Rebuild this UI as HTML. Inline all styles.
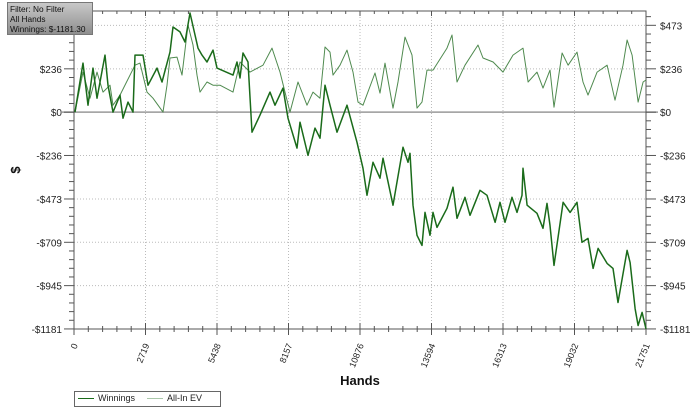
<!DOCTYPE html>
<html><head><meta charset="utf-8"><style>
html,body{margin:0;padding:0;background:#fff;width:700px;height:416px;overflow:hidden;font-family:"Liberation Sans",sans-serif}
</style></head><body>
<svg id="c" width="700" height="416" xmlns="http://www.w3.org/2000/svg"></svg>
<script>
const yTicks=[-1181,-945,-709,-473,-236,0,236,473];
const yTickLabels=["-$1181","-$945","-$709","-$473","-$236","$0","$236","$473"];
const xTicks=[0,2719,5438,8157,10876,13594,16313,19032,21751];
const winHands=[38,342,532,723,875,1179,1293,1483,1749,1863,2054,2244,2320,2624,2814,3156,3347,3651,3765,4031,4221,4411,4716,4868,5058,5286,5438,6047,6199,6313,6427,6617,6769,7074,7454,7644,7948,8138,8481,8595,8899,9165,9355,9546,9736,10002,10382,10762,10991,11143,11371,11637,11751,12132,12512,12702,12778,12892,13044,13234,13349,13539,13653,13805,14185,14413,14565,14870,15060,15440,15706,16011,16201,16391,16657,16847,17037,17075,17228,17608,17836,17988,18102,18254,18597,18863,19129,19319,19547,19738,19928,20270,20498,20688,21031,21145,21335,21449,21601,21751];
const winVals=[0,267,38,240,76,311,147,0,93,-33,55,0,311,311,147,240,164,327,464,437,382,540,349,311,273,338,240,202,273,186,322,273,-109,-16,109,38,131,-33,-196,-55,-235,-87,-142,147,38,-109,38,-164,-306,-453,-273,-360,-251,-507,-191,-273,-224,-507,-671,-726,-546,-671,-546,-628,-524,-409,-578,-464,-562,-426,-453,-600,-491,-600,-464,-546,-453,-306,-507,-551,-633,-497,-617,-835,-491,-546,-491,-709,-688,-851,-742,-824,-851,-1037,-753,-819,-1070,-1162,-1091,-1181];
const evHands=[38,342,608,875,1103,1369,1483,1749,2320,2510,2776,3004,3385,3537,3651,3917,4107,4335,4526,4678,4792,5058,5286,5552,6047,6313,6693,7188,7530,7834,8214,8519,8861,9089,9355,9546,9736,9850,10116,10382,10610,10801,10991,11447,11637,11827,12132,12322,12588,12854,13044,13234,13425,13653,14185,14375,14565,14870,15364,15554,15935,16315,16695,17075,17266,17608,17836,18102,18254,18559,18787,19129,19357,19547,19890,20270,20574,20878,21031,21221,21449,21639,21751];
const evVals=[0,218,76,218,109,147,38,93,256,267,109,76,0,147,295,300,202,475,366,202,109,164,147,147,109,273,218,256,349,218,0,164,38,109,76,355,327,202,256,338,218,55,38,213,104,267,22,164,409,311,22,55,229,229,349,420,164,256,366,295,273,218,311,349,164,218,131,229,27,322,256,327,164,93,218,256,65,256,393,311,55,164,175];

const X0=74,X1=646,Y0=11,Y1=329,XMAX=21751,YMIN=-1181.3,YMAX=551;
const sx=v=>X0+(v/XMAX)*(X1-X0);
const sy=v=>Y1-(v-YMIN)/(YMAX-YMIN)*(Y1-Y0);
const svg=document.getElementById('c');
const NS="http://www.w3.org/2000/svg";
function mk(t,a,txt){const e=document.createElementNS(NS,t);for(const k in a)e.setAttribute(k,a[k]);if(txt!=null)e.textContent=txt;svg.appendChild(e);return e;}

xTicks.forEach((t,i)=>{if(i>0&&i<xTicks.length-1){const g=mk('line',{x1:sx(t),x2:sx(t),y1:Y0,y2:Y1,stroke:'#bbb','stroke-dasharray':'1,2'});

}});
yTicks.forEach(t=>{if(t!==0&&t!==-1181){const g=mk('line',{x1:X0,x2:X1,y1:sy(t),y2:sy(t),stroke:'#bbb','stroke-dasharray':'1,2'});

}});
const zl=mk('line',{x1:62,x2:X1+12,y1:sy(0),y2:sy(0),stroke:'#999','stroke-width':1.5});


const fr=mk('path',{d:`M${X0},${Y1}V${Y0}H${X1}V${Y1}`,fill:'none',stroke:'#555'});


const xa=mk('line',{x1:X0,x2:X1,y1:Y1,y2:Y1,stroke:'#555'});


yTicks.forEach((t,i)=>{
 const y=sy(t);
 mk('line',{x1:X0-10,x2:X0,y1:y,y2:y,stroke:'#555'});
 mk('line',{x1:X1,x2:X1+10,y1:y,y2:y,stroke:'#555'});
 const l=mk('text',{x:X0-12,y:y+4,'font-size':10,'text-anchor':'end',fill:'#222'},yTickLabels[i]);
 
 
 const r=mk('text',{x:X1+14,y:y+4,'font-size':10,fill:'#222'},yTickLabels[i]);
 
 
 if(i<yTicks.length-1){const step=(yTicks[i+1]-t)/5;for(let k=1;k<5;k++){const yy=sy(t+k*step);mk('line',{x1:X0-5,x2:X0,y1:yy,y2:yy,stroke:'#555'});mk('line',{x1:X1,x2:X1+5,y1:yy,y2:yy,stroke:'#555'});}}
});
for(let k=1;k<=2;k++){const yy=sy(473+k*236.26/5*1);if(yy>Y0){mk('line',{x1:X0-5,x2:X0,y1:yy,y2:yy,stroke:'#555'});mk('line',{x1:X1,x2:X1+5,y1:yy,y2:yy,stroke:'#555'});}}
xTicks.forEach((t,i)=>{
 const x=sx(t);
 mk('line',{x1:x,x2:x,y1:Y0,y2:Y0+5,stroke:'#555'});
 mk('line',{x1:x,x2:x,y1:Y1-6,y2:Y1+6,stroke:'#555'});
 if(i<xTicks.length-1){const st=(xTicks[i+1]-t)/5;for(let k=1;k<5;k++){const xx=sx(t+k*st);mk('line',{x1:xx,x2:xx,y1:Y1-3,y2:Y1+3,stroke:'#555'});mk('line',{x1:xx,x2:xx,y1:Y0,y2:Y0+3,stroke:'#555'});}}
 const l=mk('text',{x:x+4,y:Y1+16,'font-size':9,fill:'#222','text-anchor':'end',transform:`rotate(-68 ${x+4} ${Y1+16})`},String(t));
 
 
});
function line(h,v,col,w,name){const d=h.map((t,i)=>(i?'L':'M')+sx(t).toFixed(1)+','+sy(v[i]).toFixed(1)).join('');const p=mk('path',{d,fill:'none',stroke:col,'stroke-width':w,'stroke-linejoin':'round'});

}
line(evHands,evVals,'#4f8a4f',1,'all-in-ev-line');
line(winHands,winVals,'#1a6b1a',1.5,'winnings-line');
const xt=mk('text',{x:360,y:385,'font-size':13,'font-weight':'bold','text-anchor':'middle',fill:'#111'},'Hands');


const yt=mk('text',{x:20,y:170,'font-size':13,'font-weight':'bold','text-anchor':'middle',fill:'#111',transform:'rotate(-90 20 170)'},'$');


</script>
<div style="position:absolute;left:74px;top:391px;width:145px;height:14px;border:1px solid #666;background:#fff;font-size:9px;color:#222">
 <span style="position:absolute;left:3px;top:1px"><span style="display:inline-block;width:16px;height:0;border-top:1.5px solid #1a6b1a;vertical-align:middle;margin-right:4px"></span>Winnings</span>
 <span style="position:absolute;left:72px;top:1px"><span style="display:inline-block;width:16px;height:0;border-top:1.5px solid #aac8aa;vertical-align:middle;margin-right:4px"></span>All-In EV</span>
</div>
<div style="position:absolute;left:7px;top:2px;width:86px;height:33px;background:linear-gradient(#c8c8c8,#8e8e8e);border:1px solid #777;font-size:8.3px;line-height:10px;color:#111;padding:1px 0 0 2px;box-sizing:border-box;white-space:nowrap;overflow:hidden">Filter: No Filter<br>All Hands<br>Winnings: $-1181.30</div>
</body></html>
